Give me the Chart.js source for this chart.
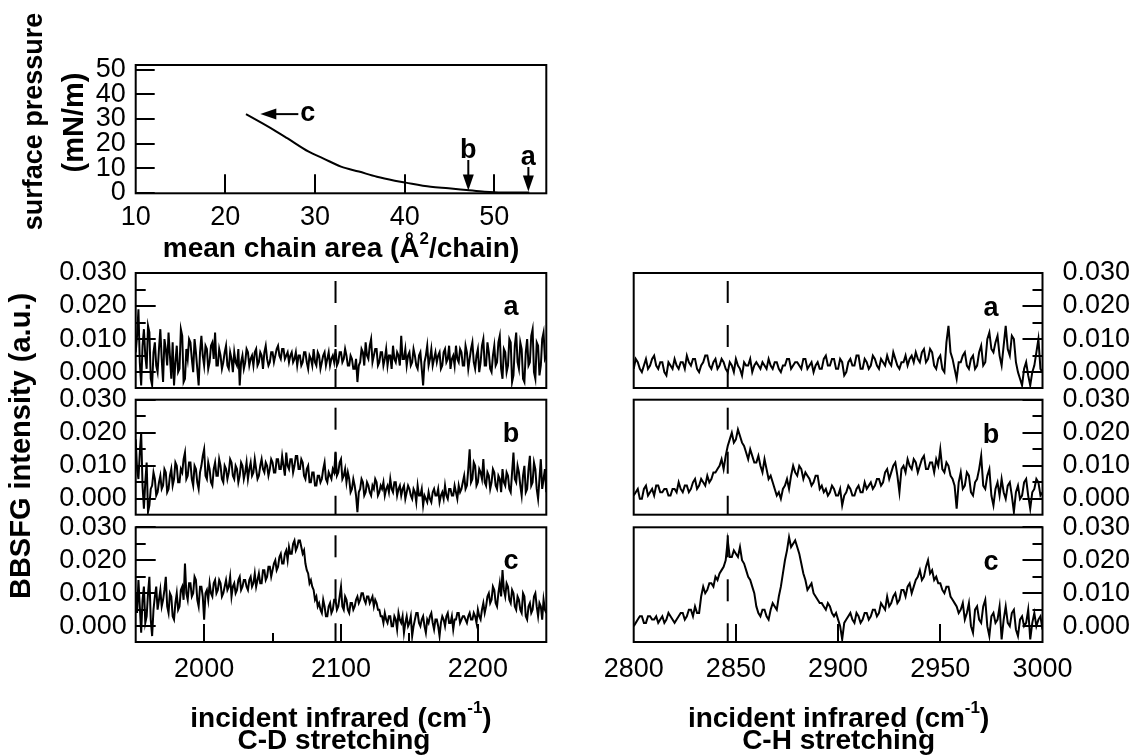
<!DOCTYPE html>
<html>
<head>
<meta charset="utf-8">
<script src="https://cdn.jsdelivr.net/npm/chart.js@4.4.1/dist/chart.umd.min.js"></script>
<style>
  html, body { margin: 0; padding: 0; background: #fff; }
  #fig { position: relative; width: 1134px; height: 755px; }
  #fig canvas { position: absolute; left: 0; top: 0; }
</style>
</head>
<body>
<div id="fig">
  <canvas id="iso" width="1134" height="755"></canvas>
  <canvas id="cdA" width="1134" height="755"></canvas>
  <canvas id="cdB" width="1134" height="755"></canvas>
  <canvas id="cdC" width="1134" height="755"></canvas>
  <canvas id="chA" width="1134" height="755"></canvas>
  <canvas id="chB" width="1134" height="755"></canvas>
  <canvas id="chC" width="1134" height="755"></canvas>
</div>
<script>
// ---- isotherm: mean chain area (A^2/chain) vs surface pressure (mN/m)
var isoArea = [22.3, 24.1, 25.7, 26.9, 29.3, 30.9, 32.9, 34.9, 36.9, 38.9, 40.1, 42.9, 44.9, 46.9, 48.9, 50.9, 53.9];
var isoPressure = [32.0, 28.3, 24.9, 22.2, 16.7, 14.0, 10.6, 8.6, 6.5, 4.9, 4.1, 2.4, 1.8, 1.1, 0.4, 0.1, 0.1];
var isoXTicks = [10, 20, 30, 40, 50];
var isoYTicks = [0, 10, 20, 30, 40, 50];
// spectra marked on the isotherm
var markArea = { a: 53.8, b: 47.1 };
var markC = { area: 23.9, pressure: 32 };

// ---- BBSFG spectra, intensity in units of 0.001 a.u., one value per cm-1
var CD_START = 1950, CD_STEP = 1;
var CH_START = 2800, CH_STEP = 1;

var cdA = [6, 11, 19, 3, -4, 8, 13, 5, 1, 14, 12, -2, -4, 6, 9, 2, 0, 7, 13, 4,
  -3, 10, 7, 2, 12, 5, -2, 9, -4, 3, 8, 0, 1, 13, 11, -3, -2, 7, 4, 10,
  9, 4, 0, 10, 6, 1, -4, 6, 11, 5, 2, 8, 7, 1, 3, 8, 9, 4, 12, 2,
  2, 7, 5, 1, 3, 6, 8, 2, 1, 6, 4, 0, 6, 3, 2, 7, -4, 3, 5, 1,
  3, 7, 6, 2, 4, 5, 2, 6, 7, 2, 3, 6, 5, 1, 6, 8, 4, 2, 3, 6,
  6, 3, 5, 7, 8, 5, 4, 7, 7, 4, 5, 6, 3, 5, 6, 3, 4, 6, 2, 5,
  5, 2, 3, 6, 6, 3, 1, 5, 4, 2, 7, 3, 2, 6, 5, 1, 3, 5, 6, 2,
  4, 6, 2, 4, 5, 3, 7, 2, 3, 6, 6, 3, 4, 7, 5, 2, 2, 5, 4, 1,
  1, 4, -3, 2, 3, 7, 6, 2, 9, 5, 4, 8, 10, 3, 5, 7, 7, 2, 3, 6,
  6, 2, 4, 7, 2, 5, 5, 1, 8, 4, 3, 6, 5, 2, 11, 4, 4, 7, 2, 5,
  6, 2, 3, 7, 5, 2, 1, 5, 6, 1, -4, 3, 5, 8, 2, 4, 7, 2, 4, 6,
  3, 5, 6, 1, 2, 6, 7, 3, 4, 8, 1, 4, 5, 2, 8, 4, 3, 7, 6, 2,
  2, 8, 6, 1, 4, 7, 9, 3, 1, 5, 7, 0, 3, 8, 10, 2, 2, 9, 6, 1,
  0, 5, 8, 2, 3, 9, 11, 1, -2, 7, 6, 0, 2, 10, 9, -3, -1, 8, 12, 3,
  1, 9, 7, -2, -3, 6, 10, 2, 3, 11, 13, 0, -2, 9, 8, -1, 2, 10, 12, 4,
  5];
var cdB = [18, 9, 6, 14, 20, 4, -3, 5, 11, -4, -2, 3, 4, 8, 6, 1, 2, 5, 7, 3,
  4, 9, 8, 2, 3, 7, 9, 4, 6, 11, 10, 5, 5, 9, 8, 12, 14, 6, 7, 11,
  11, 6, 4, 10, 9, 5, 3, 8, 10, 13, 15, 7, 6, 11, 9, 5, 4, 9, 11, 7,
  7, 12, 10, 6, 5, 10, 9, 6, 8, 12, 11, 7, 6, 10, 9, 5, 7, 11, 10, 6,
  8, 11, 6, 9, 11, 7, 8, 12, 9, 6, 7, 10, 12, 9, 8, 11, 10, 7, 9, 12,
  11, 8, 8, 12, 12, 9, 9, 13, 10, 7, 14, 10, 9, 12, 12, 8, 10, 13, 13, 9,
  9, 12, 11, 7, 6, 9, 10, 5, 5, 8, 8, 4, 4, 7, 7, 5, 6, 9, 11, 6,
  5, 8, 7, 6, 9, 8, 14, 7, 8, 11, 12, 6, 7, 9, 5, 8, 6, 2, 3, 6,
  4, 1, -4, 2, 3, 6, 5, 1, 2, 5, 4, 2, 1, 4, 3, 6, 5, 1, 2, 4,
  3, 5, 1, 3, 4, 2, 6, 3, 2, 5, 5, 1, 3, 4, 1, 3, 4, 0, 2, 4,
  3, 1, 0, 3, 2, -1, 4, 1, 1, 3, -2, 1, 0, -1, 2, 0, -1, 2, 3, 1,
  1, 3, -1, 1, 2, 0, 4, 1, 0, 3, 3, 1, 1, 4, 2, 0, 4, 2, 3, 5,
  7, 3, 4, 9, 15, 5, 6, 11, 10, 4, 5, 9, 8, 6, 12, 5, 4, 8, 7, 3,
  5, 9, 8, 4, 3, 7, 6, 2, 9, 5, 4, 8, 7, 3, 2, 8, 14, 6, 5, 10,
  8, 4, 1, 7, 10, 2, 3, 9, 13, 4, 5, 11, 9, 3, 0, 6, 12, 3, 6, 9,
  2];
var cdC = [10, 4, 14, 6, -2, 8, 12, 1, 3, 10, 15, 2, -3, 5, 9, 12, 5, 8, 11, 6,
  8, 11, 15, 6, 4, 10, 9, 3, 2, 7, 10, 5, 6, 11, 12, 8, 19, 10, 8, 13,
  13, 9, 10, 15, 14, 8, 6, 12, 12, 9, 2, 10, 11, 8, 13, 10, 9, 13, 14, 10,
  11, 14, 13, 9, 10, 12, 14, 11, 12, 15, 9, 12, 13, 10, 11, 14, 15, 11, 12, 14,
  14, 12, 11, 14, 15, 12, 13, 16, 12, 14, 16, 13, 13, 17, 17, 14, 15, 18, 18, 15,
  17, 19, 20, 17, 18, 21, 22, 19, 19, 22, 23, 20, 24, 22, 22, 25, 26, 23, 24, 26,
  26, 24, 22, 23, 19, 17, 16, 13, 14, 12, 11, 8, 9, 6, 7, 5, 4, 8, 6, 3,
  3, 6, 7, 4, 5, 8, 8, 5, 6, 9, 12, 6, 5, 9, 8, 5, 4, 7, 7, 5,
  6, 8, 9, 7, 8, 10, 10, 8, 7, 9, 9, 7, 8, 9, 6, 8, 7, 5, 5, 3,
  3, 1, 4, 2, 1, 3, 3, 0, 0, 3, 2, -1, 4, 2, 1, 3, -2, 1, 3, 0,
  1, 3, -3, 0, 2, 4, 4, 1, 0, 2, 3, 0, -2, 2, 1, 3, 4, 1, -1, 2,
  2, 0, -3, 1, 3, 2, 0, 3, 4, 1, 1, 3, -1, 2, 2, 4, 4, 1, 2, 3,
  3, 2, 1, 3, 4, 2, 2, 4, 3, 1, 5, 3, 2, 5, 7, 4, 6, 9, 10, 7,
  8, 12, 11, 7, 6, 10, 13, 9, 17, 11, 9, 13, 12, 8, 7, 11, 10, 6, 5, 9,
  8, 5, 4, 10, 9, 3, 2, 6, 7, 4, 5, 9, 10, 6, 3, 7, 6, 2, 8, 5,
  4];

var chA = [1, 4, 3, 1, 0, 2, 4, 1, 2, 4, 5, 2, 1, 3, 3, 0, -1, 3, 2, 1,
  4, 2, 1, 3, 3, 1, 5, 3, 2, 4, 4, 1, 0, 2, 3, 5, 5, 2, 1, 3,
  4, 1, 2, 4, 3, 1, 0, 3, 2, 0, 4, 2, 1, -1, 3, 2, 2, 4, 0, 2,
  3, 2, 1, 3, 2, 1, 4, 2, 1, 3, 3, 1, 0, 2, 2, 4, 4, 1, 2, 3,
  3, 2, 1, 4, 4, 1, 2, 3, 0, 2, 3, 1, 1, 4, 5, 2, 2, 4, 4, 1,
  1, 4, 3, -1, 0, 3, 4, 2, 2, 5, 5, 1, 1, 4, 3, 1, 2, 5, 4, 2,
  1, 4, 3, 2, 5, 3, 2, 6, 4, 2, 1, 3, 3, 5, 2, 4, 5, 3, 6, 4,
  3, 6, 7, 3, 4, 7, 6, 2, 1, 4, 5, 1, 0, 9, 14, 6, 4, 1, -2, 3,
  3, 5, 6, 2, 1, 4, 5, 1, 2, 6, 8, 2, 3, 10, 12, 7, 6, 9, 11, 5,
  2, 8, 14, 7, 5, 11, 10, 3, 0, -2, -4, 1, 3, -1, -4, 0, 2, 6, 10, 1,
  0];
var chB = [1, 2, 3, 0, 0, 3, 4, 1, 2, 3, 1, 4, 4, 2, 2, 3, 3, 1, 1, 3,
  3, 2, 5, 3, 2, 4, 4, 2, 3, 5, 6, 3, 4, 6, 5, 4, 7, 5, 6, 8,
  8, 9, 10, 12, 9, 13, 16, 18, 20, 17, 18, 21, 19, 17, 16, 14, 12, 15, 13, 11,
  11, 13, 10, 8, 12, 9, 6, 7, 5, 3, 1, 2, 0, 3, 4, 6, 3, 7, 10, 8,
  7, 10, 9, 6, 8, 7, 6, 4, 5, 7, 7, 3, 4, 2, 3, 1, 2, 4, 3, 1,
  1, 3, -2, 1, 2, 4, 3, 1, 1, 3, 4, 2, 2, 5, 3, 4, 5, 3, 4, 6,
  6, 4, 5, 8, 9, 6, 8, 10, 11, 7, 2, 9, 10, 8, 12, 10, 9, 12, 11, 8,
  10, 12, 13, 9, 9, 11, 11, 8, 12, 10, 15, 9, 8, 11, 10, 7, 6, 4, -3, 5,
  8, 3, 4, 8, 7, 2, 1, 5, 6, 9, 13, 4, 3, 7, 9, 1, -2, 3, 5, 1,
  6, 2, 0, 4, 5, 1, -4, 2, 4, 0, 1, 5, 6, 1, -3, 2, 3, 6, 5, 1,
  2];
var chC = [0, 1, 2, 3, 3, 1, 1, 3, 3, 2, 2, 3, 1, 2, 3, 1, 2, 4, 3, 2,
  1, 2, 3, 4, 4, 2, 3, 5, 5, 3, 6, 4, 4, 9, 12, 10, 11, 13, 13, 12,
  15, 14, 16, 17, 18, 20, 26, 21, 21, 23, 22, 21, 24, 20, 19, 17, 15, 14, 12, 10,
  6, 4, 3, 5, 5, 3, 2, 5, 7, 6, 5, 9, 12, 16, 20, 23, 27, 24, 25, 26,
  24, 22, 19, 16, 14, 11, 12, 13, 10, 9, 8, 7, 7, 6, 5, 7, 6, 4, 3, 4,
  2, 0, -4, 1, 2, 3, 4, 2, 1, 4, 3, 1, 2, 4, 4, 2, 3, 5, 5, 3,
  4, 7, 6, 5, 9, 6, 7, 9, 10, 7, 8, 11, 11, 9, 12, 13, 10, 12, 14, 15,
  17, 14, 15, 18, 20, 16, 17, 14, 15, 13, 13, 11, 10, 12, 12, 9, 8, 7, 6, 4,
  5, 7, 2, 4, 7, 0, -2, 5, 6, 2, 1, 6, 8, 0, -3, 3, 4, 1, 2, 6,
  -4, 2, 6, 1, 0, 4, 5, -1, -3, 2, 3, 0, 1, 5, -4, 1, 4, 0, 2, 3,
  -1];

var DASH_CD = 2096, DASH_CH = 2846;   // dashed reference lines
var cdTicks = [2000, 2100, 2200];
var cdMinor = [2050, 2150];
var chTicks = [2800, 2850, 2900, 2950, 3000];
var intTicks = [0, 10, 20, 30];
var intMinor = [5, 15, 25];
var INT_MIN = -4.8, INT_MAX = 30;

// ---- layout
var W = 1134, H = 755;
var FONT = '"Liberation Sans", Arial, sans-serif';
var LEFT = { l: 135.7, r: 546.3 }, RIGHT = { l: 633.7, r: 1042.5 };
var ROWS = { a: { t: 273, b: 388 }, b: { t: 399.7, b: 514.7 }, c: { t: 527.3, b: 642 } };

function spectrum(start, step, ys) {
  return ys.map(function (v, i) { return { x: start + i * step, y: v }; });
}

function frameLayer(marks) {
  return {
    id: 'frameLayer',
    afterDatasetsDraw: function (chart) {
      var ctx = chart.ctx, a = chart.chartArea, sx = chart.scales.x, sy = chart.scales.y;
      ctx.save();
      ctx.strokeStyle = '#000';
      ctx.lineWidth = 2;
      ctx.beginPath();
      (marks.y || []).forEach(function (m) {
        var p = Math.round(sy.getPixelForValue(m[0]));
        if (marks.right) { ctx.moveTo(a.right, p); ctx.lineTo(a.right - m[1], p); }
        else { ctx.moveTo(a.left, p); ctx.lineTo(a.left + m[1], p); }
      });
      (marks.x || []).forEach(function (m) {
        var p = Math.round(sx.getPixelForValue(m[0]));
        ctx.moveTo(p, a.bottom); ctx.lineTo(p, a.bottom - m[1]);
      });
      ctx.stroke();
      ctx.strokeRect(a.left, a.top, a.right - a.left, a.bottom - a.top);
      ctx.restore();
    }
  };
}

// bold text with optional superscript parts, centred on x
function textLayer(items) {
  return {
    id: 'textLayer',
    afterDraw: function (chart) {
      var ctx = chart.ctx;
      items.forEach(function (it) {
        var parts = it.parts || [{ t: it.text }];
        var size = it.size || 28, total = 0;
        ctx.save();
        ctx.fillStyle = '#000';
        ctx.textBaseline = 'alphabetic';
        ctx.textAlign = 'left';
        ctx.translate(it.x, it.y);
        if (it.rotate) ctx.rotate(it.rotate);
        parts.forEach(function (p) {
          ctx.font = 'bold ' + (p.sup ? Math.round(size * 0.62) : size) + 'px ' + FONT;
          p.w = ctx.measureText(p.t).width;
          total += p.w;
        });
        var x0 = -total / 2;
        parts.forEach(function (p) {
          ctx.font = 'bold ' + (p.sup ? Math.round(size * 0.62) : size) + 'px ' + FONT;
          ctx.fillText(p.t, x0, p.sup ? -size * 0.47 : 0);
          x0 += p.w;
        });
        ctx.restore();
      });
    }
  };
}

function ticksFrom(list) {
  return function (scale) { scale.ticks = list.map(function (v) { return { value: v }; }); };
}

function makeChart(id, c) {
  var right = c.ySide === 'right';
  var tickFont = { family: FONT, size: 27 };
  return new Chart(document.getElementById(id), {
    type: 'line',
    data: { datasets: c.datasets },
    options: {
      responsive: false,
      animation: false,
      events: [],
      layout: { padding: { left: right ? c.area.l : 0, right: right ? 0 : W - c.area.r, top: c.area.t, bottom: 0 } },
      plugins: { legend: { display: false }, tooltip: { enabled: false } },
      scales: {
        x: {
          type: 'linear', position: 'bottom', min: c.xMin, max: c.xMax,
          afterBuildTicks: ticksFrom(c.xTicks),
          afterFit: function (s) { s.height = H - c.area.b; },
          grid: { display: false, drawTicks: false }, border: { display: false },
          ticks: {
            display: !!c.showX, autoSkip: false, maxRotation: 0, padding: c.xPad, color: '#000', font: tickFont,
            callback: function (v) { return String(v); }
          }
        },
        y: {
          type: 'linear', position: c.ySide, min: c.yMin, max: c.yMax,
          afterBuildTicks: ticksFrom(c.yTicks),
          afterFit: function (s) { s.width = right ? W - c.area.r : c.area.l; },
          grid: { display: false, drawTicks: false }, border: { display: false },
          ticks: { autoSkip: false, padding: c.yPad, color: '#000', font: tickFont, callback: c.yFmt }
        }
      }
    },
    plugins: [frameLayer(c.marks), textLayer(c.texts || [])].concat(c.extra || [])
  });
}

function lineSet(points, dash) {
  return {
    data: points, borderColor: '#000', borderWidth: 2, pointRadius: 0, fill: false, tension: 0,
    borderDash: dash ? [22, 22] : [], borderDashOffset: dash ? 36 : 0
  };
}

var intFmt = function (v) { return (v / 1000).toFixed(3); };
function intMarks(right, xMarks) {
  return {
    right: right,
    y: intTicks.map(function (v) { return [v, 20]; }).concat(intMinor.map(function (v) { return [v, 10]; })),
    x: xMarks || []
  };
}

// ---- isotherm arrows
var isoArrows = {
  id: 'isoArrows',
  afterDatasetsDraw: function (chart) {
    var ctx = chart.ctx, sx = chart.scales.x, sy = chart.scales.y;
    ctx.save();
    ctx.strokeStyle = '#000'; ctx.fillStyle = '#000'; ctx.lineWidth = 2;
    function down(x, top, tip, label) {
      ctx.beginPath(); ctx.moveTo(x, top); ctx.lineTo(x, tip - 14); ctx.stroke();
      ctx.beginPath(); ctx.moveTo(x - 5.5, tip - 16); ctx.lineTo(x + 5.5, tip - 16); ctx.lineTo(x, tip); ctx.closePath(); ctx.fill();
      ctx.font = 'bold 27px ' + FONT; ctx.textAlign = 'center'; ctx.textBaseline = 'alphabetic';
      ctx.fillText(label, x, top - 2);
    }
    down(sx.getPixelForValue(markArea.b), 160, 190.5, 'b');
    down(sx.getPixelForValue(markArea.a), 167, 191.5, 'a');
    var y = sy.getPixelForValue(markC.pressure), tip = sx.getPixelForValue(markC.area);
    ctx.beginPath(); ctx.moveTo(tip + 14, y); ctx.lineTo(tip + 38, y); ctx.stroke();
    ctx.beginPath(); ctx.moveTo(tip + 16, y - 5.5); ctx.lineTo(tip + 16, y + 5.5); ctx.lineTo(tip, y); ctx.closePath(); ctx.fill();
    ctx.font = 'bold 27px ' + FONT; ctx.textAlign = 'left';
    ctx.fillText('c', tip + 40, y + 7);
    ctx.restore();
  }
};

makeChart('iso', {
  area: { l: 135.7, r: 546.3, t: 65, b: 193.3 }, ySide: 'left',
  xMin: 10, xMax: 55.8, yMin: -0.25, yMax: 52,
  xTicks: isoXTicks, yTicks: isoYTicks, showX: true, xPad: 8, yPad: 10,
  yFmt: function (v) { return String(v); },
  datasets: [Object.assign(lineSet(isoArea.map(function (a, i) { return { x: a, y: isoPressure[i] }; })), { cubicInterpolationMode: 'monotone' })],
  marks: {
    y: isoYTicks.map(function (v) { return [v, 19]; }),
    x: isoXTicks.slice(1).map(function (v) { return [v, 19]; })
  },
  texts: [
    { text: 'surface pressure', x: 42, y: 121.5, rotate: -Math.PI / 2, size: 27 },
    { text: '(mN/m)', x: 83, y: 122.5, rotate: -Math.PI / 2, size: 29 },
    { parts: [{ t: 'mean chain area (\u00c5' }, { t: '2', sup: true }, { t: '/chain)' }], x: 341, y: 257, size: 28 }
  ],
  extra: [isoArrows]
});

function cdPanel(id, row, ys, letter, bottom) {
  var texts = [{ text: letter, x: 511, y: ROWS[row].t + 42, size: 27 }];
  if (bottom) {
    texts.push({ text: 'BBSFG intensity (a.u.)', x: 30, y: 446, rotate: -Math.PI / 2, size: 29 });
    texts.push({ parts: [{ t: 'incident infrared (cm' }, { t: '-1', sup: true }, { t: ')' }], x: 341, y: 726.5, size: 28 });
    texts.push({ text: 'C-D stretching', x: 334, y: 749, size: 28 });
  }
  makeChart(id, {
    area: { l: LEFT.l, r: LEFT.r, t: ROWS[row].t, b: ROWS[row].b }, ySide: 'left',
    xMin: 1950, xMax: 2250, yMin: INT_MIN, yMax: INT_MAX,
    xTicks: cdTicks, yTicks: intTicks, showX: bottom, xPad: 11, yPad: 9, yFmt: intFmt,
    datasets: [
      lineSet([{ x: DASH_CD, y: INT_MAX }, { x: DASH_CD, y: INT_MIN }], true),
      lineSet(spectrum(CD_START, CD_STEP, ys))
    ],
    marks: intMarks(false, bottom ? cdTicks.map(function (v) { return [v, 18]; }).concat(cdMinor.map(function (v) { return [v, 9]; })) : []),
    texts: texts
  });
}

function chPanel(id, row, ys, letter, bottom) {
  var texts = [{ text: letter, x: 991, y: ROWS[row].t + 43, size: 27 }];
  if (bottom) {
    texts.push({ parts: [{ t: 'incident infrared (cm' }, { t: '-1', sup: true }, { t: ')' }], x: 838.6, y: 726.5, size: 28 });
    texts.push({ text: 'C-H stretching', x: 838.6, y: 749, size: 28 });
  }
  makeChart(id, {
    area: { l: RIGHT.l, r: RIGHT.r, t: ROWS[row].t, b: ROWS[row].b }, ySide: 'right',
    xMin: 2800, xMax: 3000, yMin: INT_MIN, yMax: INT_MAX,
    xTicks: chTicks, yTicks: intTicks, showX: bottom, xPad: 11, yPad: 20, yFmt: intFmt,
    datasets: [
      lineSet([{ x: DASH_CH, y: INT_MAX }, { x: DASH_CH, y: INT_MIN }], true),
      lineSet(spectrum(CH_START, CH_STEP, ys))
    ],
    marks: intMarks(true, bottom ? chTicks.slice(1, 4).map(function (v) { return [v, 18]; }) : []),
    texts: texts
  });
}

cdPanel('cdA', 'a', cdA, 'a', false);
cdPanel('cdB', 'b', cdB, 'b', false);
cdPanel('cdC', 'c', cdC, 'c', true);
chPanel('chA', 'a', chA, 'a', false);
chPanel('chB', 'b', chB, 'b', false);
chPanel('chC', 'c', chC, 'c', true);
</script>
</body>
</html>
